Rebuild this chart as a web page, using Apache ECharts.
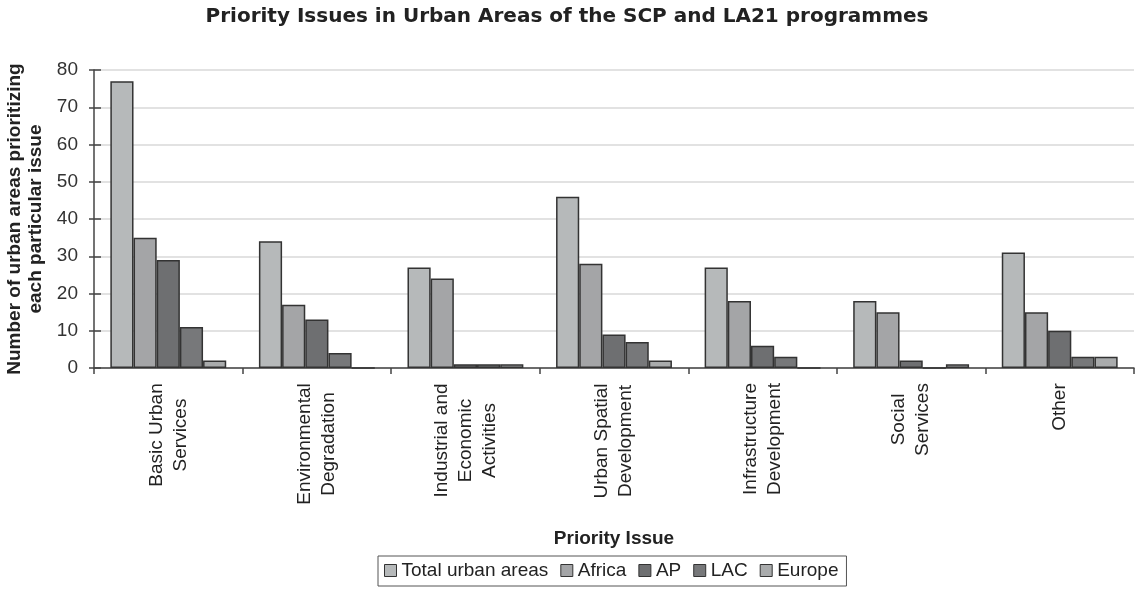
<!DOCTYPE html>
<html>
<head>
<meta charset="utf-8">
<script src="https://cdn.jsdelivr.net/npm/echarts@6/dist/echarts.min.js"></script>
<style>
html, body { margin: 0; padding: 0; background: #fff; }
#chart { width: 1136px; height: 589px; }
</style>
</head>
<body>
<div id="chart"></div>
<script>
// categories and values
const categories = ['Basic Urban\nServices', 'Environmental\nDegradation', 'Industrial and\nEconomic\nActivities',
    'Urban Spatial\nDevelopment', 'Infrastructure\nDevelopment', 'Social\nServices', 'Other']
const seriesNames = ['Total urban areas', 'Africa', 'AP', 'LAC', 'Europe']
const totalUrban = [77, 34, 27, 46, 27, 18, 31]
const africa = [35, 17, 24, 28, 18, 15, 15]
const ap = [29, 13, 1, 9, 6, 2, 10]
const lac = [11, 4, 1, 7, 3, 0, 3]
const europe = [2, 0, 1, 2, 0, 1, 3]

const colors = ['#b6b9ba', '#a4a5a7', '#6e6f71', '#77787a', '#a9abac']
const labelFont = 19
const fontFamily = '"Liberation Sans", Arial, sans-serif'

// width of each category label, so lines can be centred in the rotated block
const ctx = document.createElement('canvas').getContext('2d')
ctx.font = labelFont + 'px ' + fontFamily
const rich = {}
categories.forEach((c, i) => {
    const w = Math.max(...c.split('\n').map(l => ctx.measureText(l).width))
    rich['c' + i] = { width: Math.ceil(w), align: 'center', fontSize: labelFont, lineHeight: 24, color: '#222', fontFamily: fontFamily }
})

const chart = echarts.init(document.getElementById('chart'))
const dataList = [totalUrban, africa, ap, lac, europe]

const option = {
    animation: false,
    textStyle: { fontFamily: fontFamily },
    title: {
        text: 'Priority Issues in Urban Areas of the SCP and LA21 programmes',
        left: 562, top: 2, textAlign: 'center',
        textStyle: { fontSize: 20, fontWeight: 'bold', color: '#222', fontFamily: '"DejaVu Sans", sans-serif' }
    },
    legend: {
        data: seriesNames,
        left: 378, top: 556,
        padding: [5, 8, 6, 6],
        itemGap: 12,
        itemWidth: 12, itemHeight: 12,
        icon: 'rect',
        borderColor: '#555', borderWidth: 1,
        itemStyle: { borderColor: '#333', borderWidth: 1 },
        textStyle: { fontSize: 19, color: '#222' }
    },
    grid: { left: 94, right: 2, top: 70, bottom: 221, outerBoundsMode: 'none' },
    xAxis: {
        type: 'category',
        data: categories,
        name: 'Priority Issue',
        nameLocation: 'middle',
        nameGap: 161,
        nameTextStyle: { fontSize: 19, fontWeight: 'bold', color: '#222' },
        axisLine: { lineStyle: { color: '#444', width: 1.5 } },
        axisTick: { show: true, length: 6, lineStyle: { color: '#444', width: 1.5 } },
        axisLabel: {
            rotate: 90, margin: 15, interval: 0,
            formatter: (value, index) => value.split('\n').map(l => '{c' + index + '|' + l + '}').join('\n'),
            rich: rich
        }
    },
    yAxis: [{
        type: 'value',
        min: 0, max: 80, interval: 10,
        name: 'Number of urban areas prioritizing\neach particular issue',
        nameLocation: 'middle',
        nameGap: 48,
        nameRotate: 90,
        nameTextStyle: { fontSize: 19, fontWeight: 'bold', color: '#222', lineHeight: 21 },
        axisLine: { show: true, lineStyle: { color: '#444', width: 1.5 } },
        axisTick: { show: true, length: 5, lineStyle: { color: '#444', width: 1.5 } },
        axisLabel: { fontSize: 19, color: '#333', margin: 16 },
        splitLine: { show: true, lineStyle: { color: '#e2e2e2', width: 2 } }
    }, {
        // inner half of the crossing ticks
        type: 'value',
        position: 'left',
        min: 0, max: 80, interval: 10,
        axisLine: { show: false },
        axisTick: { show: true, inside: true, length: 7, lineStyle: { color: '#444', width: 1.5 } },
        axisLabel: { show: false },
        splitLine: { show: false }
    }],
    series: seriesNames.map((name, i) => ({
        name: name,
        type: 'bar',
        data: dataList[i],
        barGap: '0%',
        barCategoryGap: '22%',
        itemStyle: { color: colors[i], borderColor: '#333', borderWidth: 1.5 }
    }))
}
chart.setOption(option)
</script>
</body>
</html>
